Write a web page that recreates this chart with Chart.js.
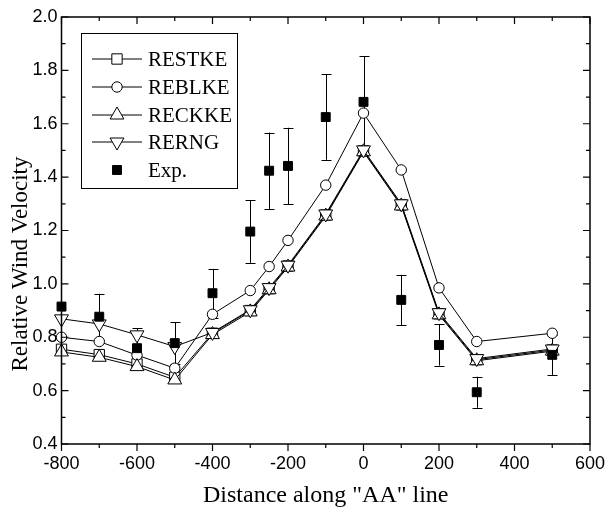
<!DOCTYPE html>
<html><head><meta charset="utf-8">
<script src="https://cdn.jsdelivr.net/npm/chart.js@4/dist/chart.umd.min.js"></script>
<style>html,body{margin:0;padding:0;background:#fff}</style>
</head><body>
<canvas id="c" width="607" height="518"></canvas>
<script>
// ---- data ----
const distances = [-800,-700,-600,-500,-400,-300,-250,-200,-100,0,100,200,300,500];
const restke = [0.755,0.735,0.700,0.650,0.815,0.900,0.982,1.067,1.258,1.498,1.296,0.888,0.716,0.752];
const reblke = [0.800,0.784,0.733,0.684,0.886,0.975,1.065,1.163,1.370,1.640,1.427,0.985,0.784,0.815];
const reckke = [0.745,0.725,0.690,0.640,0.810,0.895,0.978,1.063,1.254,1.495,1.292,0.884,0.712,0.748];
const rerng  = [0.869,0.850,0.809,0.765,0.818,0.903,0.986,1.070,1.262,1.502,1.300,0.892,0.720,0.756];
const expVals = [0.915,0.877,0.759,0.778,0.965,1.196,1.424,1.442,1.625,1.682,0.940,0.771,0.594,0.734];
const expErr  = [null,0.086,0.075,0.078,0.091,0.117,0.143,0.143,0.160,0.170,0.094,0.077,0.058,0.075];
const seriesNames = ['RESTKE','REBLKE','RECKKE','RERNG','Exp.'];
const xTicks = [-800,-600,-400,-200,0,200,400,600];
const xMinorTicks = [-700,-500,-300,-100,100,300,500];
const yTicks = [0.4,0.6,0.8,1.0,1.2,1.4,1.6,1.8,2.0];
const yMinorTicks = [0.5,0.7,0.9,1.1,1.3,1.5,1.7,1.9];
const xTitle = 'Distance along "AA" line';
const yTitle = 'Relative Wind Velocity';

const pts = arr => distances.map((d,i)=>({x:d,y:arr[i]}));
const SERIF = '"Liberation Serif","Times New Roman",serif';
const SANS = '"Liberation Sans",Arial,sans-serif';

const styles = [
  {pointStyle:'rect', radius:7.3, rotation:0, bg:'#fff'},
  {pointStyle:'circle', radius:5.2, rotation:0, bg:'#fff'},
  {pointStyle:'triangle', radius:8, rotation:0, bg:'#fff'},
  {pointStyle:'triangle', radius:8, rotation:180, bg:'#fff'},
  {pointStyle:'rect', radius:6.3, rotation:0, bg:'#000'}
];
const seriesData = [restke, reblke, reckke, rerng, expVals];
const orders = [5,4,3,2,0];

const datasets = seriesData.map((arr,i)=>({
  label: seriesNames[i],
  data: pts(arr),
  borderColor:'#000',
  borderWidth:1,
  showLine: i!==4,
  pointStyle: styles[i].pointStyle,
  pointRadius: styles[i].radius,
  pointRotation: styles[i].rotation,
  pointBackgroundColor: styles[i].bg,
  pointBorderColor:'#000',
  pointBorderWidth:1,
  pointHoverRadius: styles[i].radius,
  fill:false,
  tension:0,
  clip:false,
  order: orders[i]
}));

const errorBars = {
  id:'errorBars',
  beforeDatasetsDraw(chart){
    const ctx=chart.ctx, xs=chart.scales.x, ys=chart.scales.y;
    ctx.save(); ctx.strokeStyle='#000'; ctx.lineWidth=1;
    distances.forEach((d,i)=>{
      const e=expErr[i]; if(e==null) return;
      const px=Math.round(xs.getPixelForValue(d))+0.5;
      const y1=ys.getPixelForValue(expVals[i]+e), y2=ys.getPixelForValue(expVals[i]-e);
      ctx.beginPath();
      ctx.moveTo(px,y1); ctx.lineTo(px,y2);
      ctx.moveTo(px-5,Math.round(y1)+0.5); ctx.lineTo(px+5,Math.round(y1)+0.5);
      ctx.moveTo(px-5,Math.round(y2)+0.5); ctx.lineTo(px+5,Math.round(y2)+0.5);
      ctx.stroke();
    });
    ctx.restore();
  }
};

const frame = {
  id:'frame',
  afterDraw(chart){
    const ctx=chart.ctx, a=chart.chartArea, xs=chart.scales.x, ys=chart.scales.y;
    ctx.save(); ctx.strokeStyle='#000'; ctx.lineWidth=1.5;
    ctx.strokeRect(a.left,a.top,a.right-a.left,a.bottom-a.top);
    ctx.lineWidth=1.2;
    const drawX=(v,len)=>{const p=xs.getPixelForValue(v);
      ctx.beginPath(); ctx.moveTo(p,a.bottom); ctx.lineTo(p,a.bottom+len);
      ctx.moveTo(p,a.top); ctx.lineTo(p,a.top+len); ctx.stroke();};
    const drawY=(v,len)=>{const p=ys.getPixelForValue(v);
      ctx.beginPath(); ctx.moveTo(a.left,p); ctx.lineTo(a.left+len,p);
      ctx.moveTo(a.right,p); ctx.lineTo(a.right-len,p); ctx.stroke();};
    xTicks.forEach(v=>drawX(v,7)); xMinorTicks.forEach(v=>drawX(v,4));
    yTicks.forEach(v=>drawY(v,7)); yMinorTicks.forEach(v=>drawY(v,4));
    // axis titles
    ctx.fillStyle='#000';
    ctx.font='24px '+SERIF; ctx.textAlign='center'; ctx.textBaseline='middle';
    ctx.fillText(xTitle,(a.left+a.right)/2,496);
    ctx.save(); ctx.translate(21,264); ctx.rotate(-Math.PI/2);
    ctx.font='23px '+SERIF; ctx.fillText(yTitle,0,0); ctx.restore();
    // legend
    ctx.lineWidth=1; ctx.strokeRect(81.5,33.5,156,155);
    const rows=[59,87,115,142,170];
    seriesNames.forEach((n,i)=>{
      const y=rows[i];
      if(i!==4){ctx.beginPath(); ctx.moveTo(92,y); ctx.lineTo(142,y); ctx.stroke();}
      ctx.fillStyle=styles[i].bg; ctx.strokeStyle='#000';
      Chart.helpers.drawPoint(ctx,{pointStyle:styles[i].pointStyle,radius:styles[i].radius,rotation:styles[i].rotation,borderWidth:1},117,y);
      ctx.fillStyle='#000'; ctx.textAlign='left'; ctx.textBaseline='middle';
      ctx.font='21px '+SERIF; ctx.fillText(n,148,y+1);
    });
    ctx.restore();
  }
};

new Chart(document.getElementById('c'),{
  type:'line',
  data:{datasets},
  options:{
    responsive:false, animation:false, devicePixelRatio:1,
    layout:{padding:{left:0,right:17,top:17,bottom:0}},
    plugins:{legend:{display:false},tooltip:{enabled:false}},
    scales:{
      x:{type:'linear',min:-800,max:600,
        grid:{display:false,drawTicks:false},border:{display:false},
        afterBuildTicks:s=>{s.ticks=xTicks.map(v=>({value:v}));},
        afterFit:s=>{s.height=74;s.paddingLeft=0;s.paddingRight=0;},
        ticks:{color:'#000',font:{family:SANS,size:18},padding:9,maxRotation:0,autoSkip:false}},
      y:{type:'linear',min:0.4,max:2.0,
        grid:{display:false,drawTicks:false},border:{display:false},
        afterBuildTicks:s=>{s.ticks=yTicks.map(v=>({value:v}));},
        afterFit:s=>{s.width=61.5;s.paddingTop=0;s.paddingBottom=0;},
        ticks:{color:'#000',font:{family:SANS,size:18},padding:4,callback:v=>v.toFixed(1)}}
    }
  },
  plugins:[errorBars,frame]
});
</script>
</body></html>
